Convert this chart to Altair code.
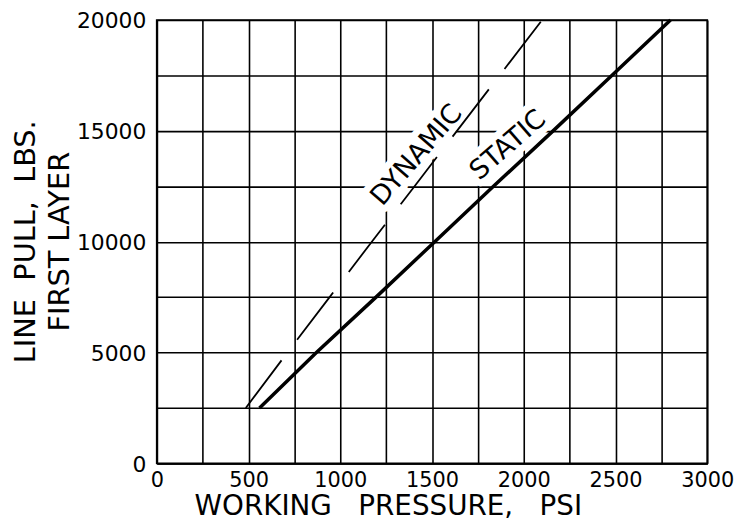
import altair as alt
import pandas as pd

# Data
static_psi = [560, 870, 1195, 1515, 1835, 2160, 2480, 2800]
static_lbs = [2500, 5000, 7500, 10000, 12500, 15000, 17500, 20000]
dynamic_psi = [485, 712, 942, 1172, 1405, 1636, 1868, 2100]
dynamic_lbs = [2500, 5000, 7500, 10000, 12500, 15000, 17500, 20000]

label_text = ["DYNAMIC", "STATIC"]
label_psi = [1417, 1915]
label_lbs = [13900, 14350]
label_angle = [311, 319]

x_ticks = list(range(0, 3001, 250))
y_ticks = list(range(0, 20001, 2500))

FONT = "DejaVu Sans"

static_df = pd.DataFrame({"psi": static_psi, "lbs": static_lbs})
dynamic_df = pd.DataFrame({"psi": dynamic_psi, "lbs": dynamic_lbs})
label_df = pd.DataFrame({"text": label_text, "psi": label_psi, "lbs": label_lbs, "angle": label_angle})

x_axis = alt.Axis(
    values=x_ticks,
    labelExpr="datum.value % 500 == 0 ? datum.label : ''",
    format="d",
    grid=True, ticks=False, tickSize=0,
    labelFont=FONT, labelFontSize=21, labelColor="black", labelPadding=6,
    labelFlush=False, labelOverlap=False,
    title="WORKING\u00a0\u00a0 PRESSURE,\u00a0\u00a0 PSI",
    titleFont=FONT, titleFontSize=28, titleFontWeight="normal", titleColor="black",
    titleX=233, titleY=52, titleBaseline="alphabetic", titleAlign="center", titleAngle=0,
    domainColor="black", domainWidth=1.8, gridColor="black", gridWidth=1.6, gridOpacity=1,
)
y_axis = alt.Axis(
    values=y_ticks,
    labelExpr="datum.value % 5000 == 0 ? datum.label : ''",
    format="d",
    grid=True, ticks=False, tickSize=0,
    labelFont=FONT, labelFontSize=22, labelColor="black", labelPadding=11,
    labelOverlap=False, labelOffset=1,
    title=["LINE\u00a0 PULL,\u00a0 LBS.", "FIRST LAYER"],
    titleFont=FONT, titleFontSize=29, titleFontWeight="normal", titleColor="black",
    titleLineHeight=34,
    titleX=-123, titleY=223, titleBaseline="alphabetic", titleAlign="center", titleAngle=270,
    domainColor="black", domainWidth=1.8, gridColor="black", gridWidth=1.6, gridOpacity=1,
)

xs = alt.Scale(domain=[0, 3000], nice=False, zero=False)
ys = alt.Scale(domain=[0, 20000], nice=False, zero=False)

static_line = alt.Chart(static_df).mark_line(color="black", strokeWidth=3.5).encode(
    x=alt.X("psi:Q", scale=xs, axis=x_axis),
    y=alt.Y("lbs:Q", scale=ys, axis=y_axis),
)

dynamic_line = alt.Chart(dynamic_df).mark_line(color="black", strokeWidth=1.8, strokeDash=[60, 26]).encode(
    x=alt.X("psi:Q", scale=xs),
    y=alt.Y("lbs:Q", scale=ys),
)

halo = alt.Chart(label_df).mark_text(
    font=FONT, fontSize=27, fill="white", stroke="white", strokeWidth=14,
    strokeJoin="round", align="center", baseline="middle",
).encode(
    x=alt.X("psi:Q", scale=xs),
    y=alt.Y("lbs:Q", scale=ys),
    text="text:N",
    angle=alt.Angle("angle:Q", scale=None),
)

labels = alt.Chart(label_df).mark_text(
    font=FONT, fontSize=27, color="black", align="center", baseline="middle",
).encode(
    x=alt.X("psi:Q", scale=xs),
    y=alt.Y("lbs:Q", scale=ys),
    text="text:N",
    angle=alt.Angle("angle:Q", scale=None),
)

chart = alt.layer(halo, static_line, dynamic_line, labels).properties(
    width=555, height=447,
    autosize=alt.AutoSizeParams(type="none"),
    padding={"left": 150, "top": 10, "right": 29, "bottom": 58},
    background="white",
).configure_view(stroke="black", strokeWidth=1.8)

chart.save("out.html", embed_options={"renderer": "svg", "actions": False})
